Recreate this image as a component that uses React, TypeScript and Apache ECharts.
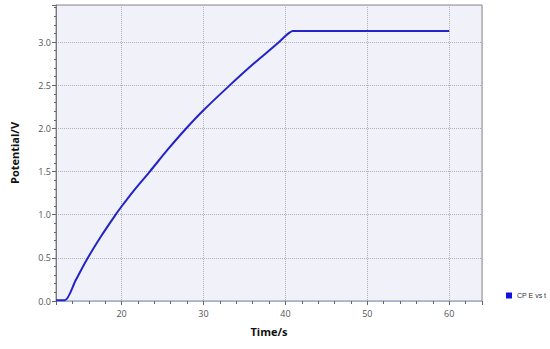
import React, { useEffect, useRef } from "react";
import * as echarts from "echarts";

const timeValues = [12, 13.1, 14.4, 15.7, 17.5, 19.2, 20, 21.5, 23.45, 25.6, 27.8, 30, 33.1, 36, 39.1, 40.0, 40.5, 40.9, 45, 50, 55, 60];
const potentialValues = [0.01, 0.01, 0.24, 0.47, 0.75, 0.99, 1.095, 1.28, 1.5, 1.75, 1.99, 2.21, 2.49, 2.74, 2.99, 3.07, 3.11, 3.13, 3.13, 3.13, 3.13, 3.13];
const seriesName = "CP E vs t";
const xTitle = "Time/s";
const yTitle = "Potential/V";

export default function App() {
  const ref = useRef<HTMLDivElement>(null);
  useEffect(() => {
    if (!ref.current) return;
    const chart = echarts.init(ref.current, undefined, { renderer: "svg" });
    const data = timeValues.map((t, i) => [t, potentialValues[i]]);
    const font = "'Open Sans', 'Noto Sans', sans-serif";
    chart.setOption({
      animation: false,
      textStyle: { fontFamily: font },
      grid: {
        left: 56,
        right: 68,
        top: 5,
        bottom: 48,
        show: true,
        backgroundColor: "#f1f1fa",
        borderColor: "#8a8a8a",
        borderWidth: 1,
      },
      legend: {
        left: 506,
        top: 292,
        itemWidth: 6,
        itemHeight: 6,
        itemGap: 4,
        padding: 0,
        icon: "rect",
        textStyle: { fontSize: 7, color: "#333", fontFamily: "'Liberation Sans', Arial, sans-serif" },
        data: [seriesName],
      },
      xAxis: {
        type: "value",
        min: 12,
        max: 64,
        name: xTitle,
        nameLocation: "middle",
        nameGap: 25,
        nameTextStyle: { fontSize: 11, fontWeight: "bold", color: "#111", fontFamily: font },
        axisLine: { show: true, lineStyle: { color: "#9db4e2", width: 1 } },
        axisTick: { show: true, length: 4, lineStyle: { color: "#666" } },
        minorTick: { show: true, splitNumber: 5, length: 3, lineStyle: { color: "#666" } },
        axisLabel: { fontSize: 9, color: "#555", margin: 8, showMinLabel: false, showMaxLabel: false },
        splitLine: { show: true, lineStyle: { type: "dotted", color: "#b0b0b8" } },
      },
      yAxis: {
        type: "value",
        min: 0,
        max: 3.43,
        interval: 0.5,
        name: yTitle,
        nameLocation: "middle",
        nameGap: 36,
        nameTextStyle: { fontSize: 11, fontWeight: "bold", color: "#111", fontFamily: font },
        axisLine: { show: true, lineStyle: { color: "#7a7a7a" } },
        axisTick: { show: true, length: 4, lineStyle: { color: "#666" } },
        minorTick: { show: true, splitNumber: 5, length: 2, lineStyle: { color: "#666" } },
        axisLabel: {
          fontSize: 9,
          color: "#555",
          margin: 5,
          showMaxLabel: false,
          formatter: (v: number) => v.toFixed(1),
        },
        splitLine: { show: true, lineStyle: { type: "dotted", color: "#b0b0b8" } },
      },
      series: [
        {
          name: seriesName,
          type: "line",
          data,
          showSymbol: false,
          smooth: 0.25,
          lineStyle: { color: "#2323c8", width: 2 },
          itemStyle: { color: "#1010e0" },
        },
      ],
    });
    return () => chart.dispose();
  }, []);
  return <div ref={ref} style={{ width: 550, height: 349, position: "absolute", left: 0, top: 0 }} />;
}
